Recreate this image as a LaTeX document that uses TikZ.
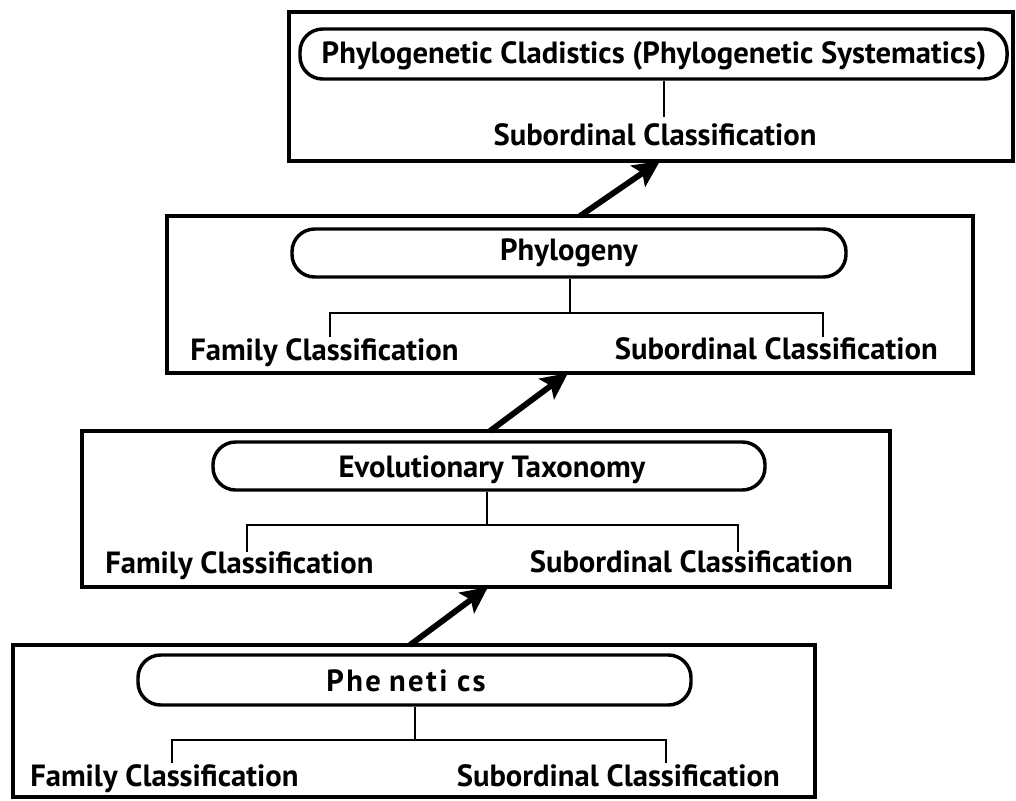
\documentclass[tikz,border=0pt]{standalone}
\usepackage{fontspec}
\setmainfont{PT Sans}
\usetikzlibrary{fit,arrows.meta}
\begin{document}
\begin{tikzpicture}[x=0.75pt,y=-0.75pt,
  frame/.style={draw, line width=2.8pt, inner sep=0pt},
  pill/.style={draw, line width=2.6pt, rounded corners=17pt, inner sep=0pt},
  lbl/.style={font=\fontsize{23}{26}\selectfont\bfseries, inner sep=0pt},
  branch/.style={line width=2.2pt},
  rise/.style={line width=4.4pt, -{Stealth[length=20pt,width=19pt,inset=4pt]}}]
\useasboundingbox (0,0) rectangle (1016,800);

% ---- level 1: cladistics
\node[frame, fit={(289,12) (1013,161)}] (box1) {};
\node[pill, fit={(300,29) (1007,79)}] (p1) {};
\node[lbl, anchor=base] (t1) at (654,63) {Phylogenetic Cladistics (Phylogenetic Systematics)};
\node[lbl, anchor=base] (s1) at (655,145) {Subordinal Classification};
\coordinate (c1) at (664,117);
\draw[branch] (p1.south -| c1) -- (c1);

% ---- level 2: phylogeny
\node[frame, fit={(167,216) (973,373)}] (box2) {};
\node[pill, fit={(292,229) (846,277)}] (p2) {};
\node[lbl, anchor=base] (t2) at (569,260) {Phylogeny};
\node[lbl, anchor=base west] (f2) at (190,360) {Family Classification};
\node[lbl, anchor=base east] (s2) at (938,359) {Subordinal Classification};
\coordinate (j2) at (570,313);
\coordinate (fl2) at (330,337);
\coordinate (fr2) at (823,337);
\draw[branch] (p2.south -| j2) -- (j2);
\draw[branch] (fl2) -- (fl2 |- j2) -- (fr2 |- j2) -- (fr2);

% ---- level 3: evolutionary taxonomy
\node[frame, fit={(82,431) (890,587)}] (box3) {};
\node[pill, fit={(213,442) (765,490)}] (p3) {};
\node[lbl, anchor=base] (t3) at (492,477) {Evolutionary Taxonomy};
\node[lbl, anchor=base west] (f3) at (105,573) {Family Classification};
\node[lbl, anchor=base east] (s3) at (853,572) {Subordinal Classification};
\coordinate (j3) at (487,525);
\coordinate (fl3) at (247,552);
\coordinate (fr3) at (738,552);
\draw[branch] (p3.south -| j3) -- (j3);
\draw[branch] (fl3) -- (fl3 |- j3) -- (fr3 |- j3) -- (fr3);

% ---- level 4: phenetics
\node[frame, fit={(13,645) (815,797)}] (box4) {};
\node[pill, fit={(138,655) (691,705)}] (p4) {};
\node[lbl, anchor=base] (t4) at (406,691)
  {\addfontfeature{LetterSpace=8}Phe\kern6pt neti\kern7pt cs};
\node[lbl, anchor=base west] (f4) at (30,786) {Family Classification};
\node[lbl, anchor=base east] (s4) at (780,786) {Subordinal Classification};
\coordinate (j4) at (415,740);
\coordinate (fl4) at (172,763);
\coordinate (fr4) at (666,763);
\draw[branch] (p4.south -| j4) -- (j4);
\draw[branch] (fl4) -- (fl4 |- j4) -- (fr4 |- j4) -- (fr4);

% ---- arrows between levels
\coordinate (a1s) at (580,216);
\coordinate (a1e) at (660,161);
\coordinate (a2s) at (490,431);
\coordinate (a2e) at (568,373);
\coordinate (a3s) at (410,645);
\coordinate (a3e) at (488,587);
\draw[rise] (a1s) -- (a1e);
\draw[rise] (a2s) -- (a2e);
\draw[rise] (a3s) -- (a3e);
\end{tikzpicture}
\end{document}
